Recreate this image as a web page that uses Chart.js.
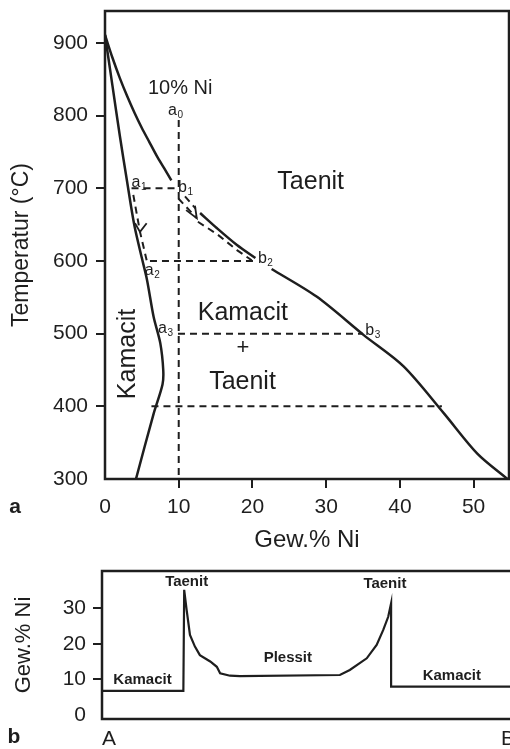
<!DOCTYPE html>
<html lang="de">
<head>
<meta charset="UTF-8" />
<title>Fe-Ni Phasendiagramm</title>
<script src="https://cdn.jsdelivr.net/npm/chart.js@4.4.0/dist/chart.umd.min.js"></script>
<style>
  html, body { margin: 0; padding: 0; background: #fff; overflow: hidden; }
  #wrap { position: relative; width: 510px; height: 749px; overflow: hidden; }
  #oben { position: absolute; left: 0; top: 0; }
  #unten { position: absolute; left: 0; top: 560px; }
</style>
</head>
<body>
<div id="wrap">
  <canvas id="oben" width="510" height="560"></canvas>
  <canvas id="unten" width="520" height="189"></canvas>
</div>
<script>
// --- a: Phasendiagramm (Gew.% Ni / Temperatur) ---
const niTicks = [0, 10, 20, 30, 40, 50];
const tempTicks = [300, 400, 500, 600, 700, 800, 900];

// Grenze Taenit | Kamacit + Taenit
const taenitObenNi = [0, 1, 2, 3, 4, 5, 6, 7, 8, 9];
const taenitObenT = [911, 880, 852, 827, 804, 783, 764, 745, 728, 711];
const taenitMitteNi = [12.9, 15.2, 17.9, 20.4];
const taenitMitteT = [666, 645, 622, 604];
const taenitUntenNi = [22.6, 28.7, 35.1, 40.5, 46, 50.5, 54.6];
const taenitUntenT = [589, 551, 498, 455, 390, 335, 300];

// Grenze Kamacit | Kamacit + Taenit
const kamacitNi = [0, 1, 2, 3, 4, 5, 5.7, 6.6, 7.5, 7.9, 7.8, 6.6, 4.2];
const kamacitT = [911, 842, 773, 709, 648, 604, 574, 523, 487, 450, 430, 390, 300];

// gestrichelte Linien
const isoNi = [10, 10];
const isoT = [794, 300];
const konode700Ni = [3.6, 9.5];
const konode600Ni = [6.1, 20.6];
const konode500Ni = [9.9, 35];
const konode400Ni = [6.3, 45.7];
const weg_aNi = [3.84, 4.75, 5.65];
const weg_aT = [691, 640, 601];
const weg_b1Ni = [9.95, 12.45];
const weg_b1T = [686, 659];
const weg_b2Ni = [10.85, 12.3];
const weg_b2T = [689, 672];
const weg_b3Ni = [12.6, 15.2, 17.9, 19.9];
const weg_b3T = [654, 637, 615, 601];
// Pfeilspitzen
const pfeilANi = [4.07, 4.75, 5.65];
const pfeilAT = [652, 640, 652];
const pfeilBNi = [11.0, 12.45, 12.2];
const pfeilBT = [670, 659, 676];

// --- b: Ni-Profil von A nach B ---
const profilTicks = ['A', 'B'];
const profilNiTicks = [0, 10, 20, 30];
const profilPos = [0, 19.7, 19.9, 20.5, 21.3, 22.5, 23.7, 26.2, 27.8, 28.6, 31, 33.4, 57.6, 60, 64.1, 66.5, 68.1, 69.3, 70, 70, 100];
const profilNi = [6.7, 6.7, 35.2, 29.5, 22.5, 19.2, 16.8, 15, 13.5, 11.7, 11, 10.9, 11.2, 12.6, 15.9, 19.7, 23.9, 27.6, 31.4, 7.9, 7.9];

const FARBE = '#1e1e1e';
const SCHRIFT = "'Liberation Sans', Arial, sans-serif";

function paare(xs, ys) {
  return xs.map((x, i) => ({ x: x, y: ys[i] }));
}

function linie(xs, ys, opt) {
  opt = opt || {};
  return {
    data: paare(xs, ys),
    borderColor: FARBE,
    borderWidth: opt.breite || 2.5,
    borderDash: opt.strich ? [7, 5] : [],
    tension: opt.glatt ? 0.3 : 0,
    pointRadius: 0,
    fill: false
  };
}

function beschriftung(texte, fest) {
  return {
    id: 'beschriftung',
    afterDatasetsDraw(chart) {
      const ctx = chart.ctx;
      const a = chart.chartArea;
      const sx = chart.scales.x, sy = chart.scales.y;
      ctx.save();
      ctx.strokeStyle = FARBE;
      ctx.lineWidth = 2.5;
      ctx.strokeRect(a.left, a.top, a.right - a.left, a.bottom - a.top);
      ctx.fillStyle = FARBE;
      texte.forEach(t => {
        const px = sx.getPixelForValue(t.x);
        const py = sy.getPixelForValue(t.y);
        ctx.save();
        ctx.font = (t.fett ? 'bold ' : '') + t.groesse + 'px ' + SCHRIFT;
        if (t.index) {
          ctx.textAlign = 'left';
          ctx.textBaseline = 'alphabetic';
          ctx.fillText(t.text, px, py);
          const w = ctx.measureText(t.text).width;
          ctx.font = Math.round(t.groesse * 0.62) + 'px ' + SCHRIFT;
          ctx.fillText(t.index, px + w + 0.5, py + 3);
        } else {
          ctx.textAlign = 'center';
          ctx.textBaseline = 'middle';
          ctx.translate(px, py);
          ctx.rotate(t.drehung || 0);
          ctx.fillText(t.text, 0, 0);
        }
        ctx.restore();
      });
      fest.forEach(t => {
        ctx.font = 'bold ' + t.groesse + 'px ' + SCHRIFT;
        ctx.textAlign = 'center';
        ctx.textBaseline = 'middle';
        ctx.fillText(t.text, t.px, t.py);
      });
      ctx.restore();
    }
  };
}

const tickFarbe = c => (c.index === 0 ? 'rgba(0,0,0,0)' : FARBE);

// feste Achsenmaße, ohne Zusatzabstand für halbe Beschriftungen
function festeHoehe(h) {
  return s => { s.height = h; s.paddingLeft = 0; s.paddingRight = 0; };
}
function festeBreite(w) {
  return s => { s.width = w; s.paddingTop = 0; s.paddingBottom = 0; };
}

// ---------- Diagramm a ----------
const texteOben = [
  { text: '10% Ni', x: 10.2, y: 837, groesse: 20 },
  { text: 'a', index: '0', x: 8.55, y: 801, groesse: 16 },
  { text: 'a', index: '1', x: 3.6, y: 702, groesse: 16 },
  { text: 'b', index: '1', x: 9.9, y: 695, groesse: 16 },
  { text: 'a', index: '2', x: 5.4, y: 581, groesse: 16 },
  { text: 'b', index: '2', x: 20.75, y: 597, groesse: 16 },
  { text: 'a', index: '3', x: 7.2, y: 501, groesse: 16 },
  { text: 'b', index: '3', x: 35.3, y: 498, groesse: 16 },
  { text: 'Taenit', x: 27.9, y: 709, groesse: 25 },
  { text: 'Kamacit', x: 18.7, y: 528, groesse: 25 },
  { text: '+', x: 18.7, y: 480, groesse: 22 },
  { text: 'Taenit', x: 18.65, y: 434, groesse: 25 },
  { text: 'Kamacit', x: 3.2, y: 472, groesse: 25, drehung: -Math.PI / 2 }
];

new Chart(document.getElementById('oben'), {
  type: 'line',
  data: {
    datasets: [
      linie(taenitObenNi, taenitObenT, { glatt: true }),
      linie(taenitMitteNi, taenitMitteT, { glatt: true }),
      linie(taenitUntenNi, taenitUntenT, { glatt: true }),
      linie(kamacitNi, kamacitT, { glatt: true }),
      linie(isoNi, isoT, { strich: true, breite: 2 }),
      linie(konode700Ni, [700, 700], { strich: true, breite: 2 }),
      linie(konode600Ni, [600, 600], { strich: true, breite: 2 }),
      linie(konode500Ni, [500, 500], { strich: true, breite: 2 }),
      linie(konode400Ni, [400, 400], { strich: true, breite: 2 }),
      linie(weg_aNi, weg_aT, { strich: true, breite: 2 }),
      linie(weg_b1Ni, weg_b1T, { strich: true, breite: 2 }),
      linie(weg_b2Ni, weg_b2T, { strich: true, breite: 2 }),
      linie(weg_b3Ni, weg_b3T, { strich: true, breite: 2 }),
      linie(pfeilANi, pfeilAT, { breite: 1.8 }),
      linie(pfeilBNi, pfeilBT, { breite: 1.8 })
    ]
  },
  options: {
    responsive: false,
    animation: false,
    layout: { padding: { top: 11, right: 1, left: 0, bottom: 0 } },
    plugins: { legend: { display: false }, tooltip: { enabled: false } },
    scales: {
      x: {
        type: 'linear',
        min: 0,
        max: 54.8,
        afterBuildTicks: s => { s.ticks = niTicks.map(v => ({ value: v })); },
        afterFit: festeHoehe(81),
        border: { display: false },
        grid: { drawOnChartArea: false, drawTicks: true, tickLength: 9, lineWidth: 2, color: tickFarbe },
        ticks: { color: FARBE, font: { family: SCHRIFT, size: 21 }, padding: 7, maxRotation: 0 },
        title: { display: true, text: 'Gew.% Ni', color: FARBE, font: { family: SCHRIFT, size: 24 }, padding: { top: 0, bottom: 5 } }
      },
      y: {
        type: 'linear',
        min: 300,
        max: 944,
        afterBuildTicks: s => { s.ticks = tempTicks.map(v => ({ value: v })); },
        afterFit: festeBreite(105),
        border: { display: false },
        grid: { drawOnChartArea: false, drawTicks: true, tickLength: 9, lineWidth: 2, color: tickFarbe },
        ticks: { color: FARBE, font: { family: SCHRIFT, size: 21 }, padding: 8 },
        title: { display: true, text: 'Temperatur (°C)', color: FARBE, font: { family: SCHRIFT, size: 23 }, padding: { top: 8, bottom: 0 } }
      }
    }
  },
  plugins: [beschriftung(texteOben, [{ text: 'a', px: 15, py: 507, groesse: 21 }])]
});

// ---------- Diagramm b ----------
const texteUnten = [
  { text: 'Taenit', x: 20.5, y: 37.5, groesse: 15, fett: true },
  { text: 'Taenit', x: 68.5, y: 36.8, groesse: 15, fett: true },
  { text: 'Plessit', x: 45, y: 16.1, groesse: 15, fett: true },
  { text: 'Kamacit', x: 9.8, y: 9.8, groesse: 15, fett: true },
  { text: 'Kamacit', x: 84.7, y: 10.9, groesse: 15, fett: true }
];

new Chart(document.getElementById('unten'), {
  type: 'line',
  data: {
    datasets: [linie(profilPos, profilNi, { breite: 2.2 })]
  },
  options: {
    responsive: false,
    animation: false,
    layout: { padding: { top: 11, right: 5, left: 0, bottom: 0 } },
    plugins: { legend: { display: false }, tooltip: { enabled: false } },
    scales: {
      x: {
        type: 'linear',
        min: 0,
        max: 100,
        afterBuildTicks: s => { s.ticks = [{ value: 0 }, { value: 100 }]; },
        afterFit: festeHoehe(30),
        border: { display: false },
        grid: { display: false, drawTicks: false },
        ticks: {
          color: FARBE,
          font: { family: SCHRIFT, size: 21 },
          padding: 8,
          align: 'inner',
          maxRotation: 0,
          callback: (v, i) => profilTicks[i]
        }
      },
      y: {
        type: 'linear',
        min: -1.2,
        max: 40.5,
        afterBuildTicks: s => { s.ticks = profilNiTicks.map(v => ({ value: v })); },
        afterFit: festeBreite(102),
        border: { display: false },
        grid: { drawOnChartArea: false, drawTicks: true, tickLength: 9, lineWidth: 2, color: tickFarbe },
        ticks: { color: FARBE, font: { family: SCHRIFT, size: 21 }, padding: 7 },
        title: { display: true, text: 'Gew.% Ni', color: FARBE, font: { family: SCHRIFT, size: 22 }, padding: { top: 11, bottom: 0 } }
      }
    }
  },
  plugins: [beschriftung(texteUnten, [{ text: 'b', px: 14, py: 177, groesse: 21 }])]
});
</script>
</body>
</html>
